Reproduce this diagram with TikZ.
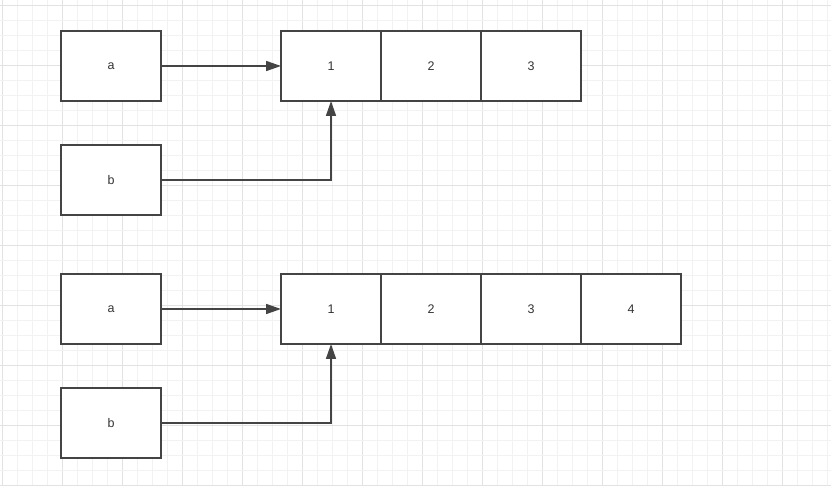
\documentclass[tikz,border=0pt]{standalone}
\usepackage{fontspec}
\setmainfont{Liberation Sans}
\usetikzlibrary{positioning,arrows.meta}
\definecolor{GridMinor}{RGB}{242,242,242}
\definecolor{GridMajor}{RGB}{226,226,226}
\definecolor{BoxLine}{RGB}{68,68,68}
\definecolor{LabelGray}{RGB}{51,51,51}
\tikzset{
  cell/.style={rectangle,draw=BoxLine,line width=2.2pt,fill=white,outer sep=0pt,inner sep=0pt,
    minimum width=100pt,minimum height=70pt,text=LabelGray,font=\fontsize{12.5}{14}\selectfont},
  link/.style={draw=BoxLine,line width=1.6pt,-{Triangle[length=15pt,width=10pt]}},
}

\begin{document}
\begin{tikzpicture}[x=1pt,y=-1pt]
\useasboundingbox (0,0) rectangle (831,486);
\fill[white] (0,0) rectangle (831,486);
% grid
\foreach \k in {0,...,55}{
  \pgfmathsetmacro\gx{2.7+15*\k}
  \pgfmathtruncatemacro\rest{mod(\k,4)}
  \ifnum\rest=0
    \draw[GridMajor,line width=0.8pt] (\gx,0)--(\gx,486);
  \else
    \draw[GridMinor,line width=0.8pt] (\gx,0)--(\gx,486);
  \fi
}
\foreach \k in {0,...,32}{
  \pgfmathsetmacro\gy{5.7+15*\k}
  \pgfmathtruncatemacro\rest{mod(\k,4)}
  \ifnum\rest=0
    \draw[GridMajor,line width=0.8pt] (0,\gy)--(831,\gy);
  \else
    \draw[GridMinor,line width=0.8pt] (0,\gy)--(831,\gy);
  \fi
}
% first row
\node[cell] (a1) at (111,66) {a};
\node[cell] (b1) at (111,180) {b};
\node[cell] (c11) at (331,66) {1};
\foreach \i/\prev in {2/1,3/2}
  \node[cell,right=0pt of c1\prev] (c1\i) {\i};
\draw[link] (a1.east) -- (c11.west);
\draw[link] (b1.east) -| (c11.south);
% second row
\node[cell] (a2) at (111,309) {a};
\node[cell] (b2) at (111,423) {b};
\node[cell] (c21) at (331,309) {1};
\foreach \i/\prev in {2/1,3/2,4/3}
  \node[cell,right=0pt of c2\prev] (c2\i) {\i};
\draw[link] (a2.east) -- (c21.west);
\draw[link] (b2.east) -| (c21.south);
\end{tikzpicture}
\end{document}
